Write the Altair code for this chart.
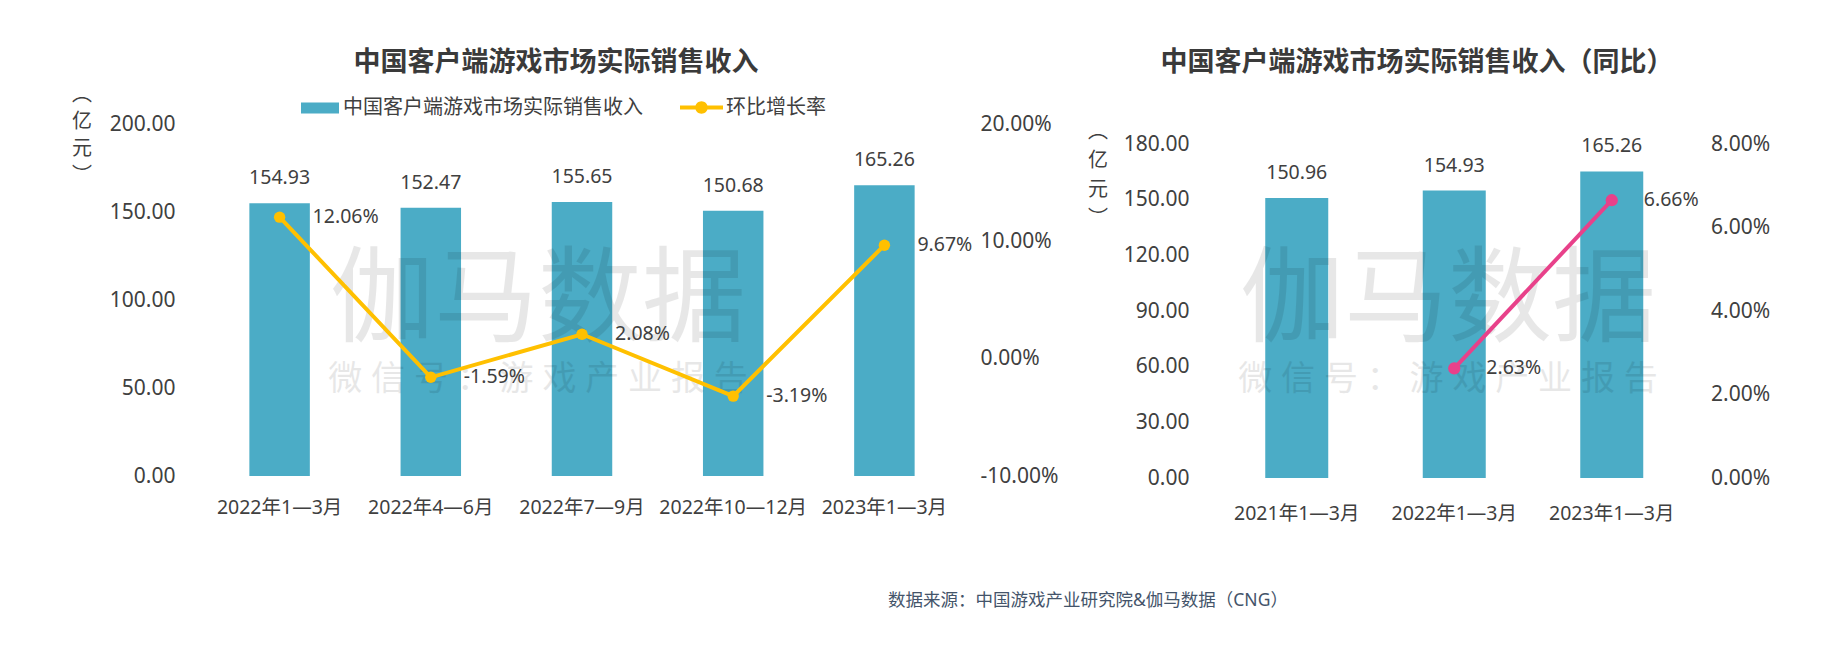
import altair as alt
import pandas as pd

# ---------------- data ----------------
q_labels = ["2022年1—3月", "2022年4—6月", "2022年7—9月", "2022年10—12月", "2023年1—3月"]
q_revenue = [154.93, 152.47, 155.65, 150.68, 165.26]
q_growth = [12.06, -1.59, 2.08, -3.19, 9.67]

y_labels = ["2021年1—3月", "2022年1—3月", "2023年1—3月"]
y_revenue = [150.96, 154.93, 165.26]
y_growth = [None, 2.63, 6.66]

left_axis_values = [0, 50, 100, 150, 200]
left_pct_values = [-0.10, 0.0, 0.10, 0.20]
right_axis_values = [0, 30, 60, 90, 120, 150, 180]
right_pct_values = [0.0, 0.02, 0.04, 0.06, 0.08]

bar_name = "中国客户端游戏市场实际销售收入"
line_name = "环比增长率"
title_left = "中国客户端游戏市场实际销售收入"
title_right = "中国客户端游戏市场实际销售收入（同比）"
unit_lines = ["︵", "亿", "元", "︶"]
wm_big = "伽马数据"
wm_small = "微 信 号 ： 游 戏 产 业 报 告"
source_text = "数据来源：中国游戏产业研究院&伽马数据（CNG）"

# ---------------- style ----------------
TEAL = "#4BACC6"
GOLD = "#FFC000"
PINK = "#E8418A"
TXT = "#404040"
FONT = "Noto Sans, Noto Sans CJK SC"
MINUS_FIX = "replace(format(datum.value, '.2%'), '\u2212', '-')"

RECT_PATH = "M-1,-0.29H1V0.29H-1Z"
LINE_DOT_PATH = ("M-1,-0.09H1V0.09H-1Z M0.29,0A0.29,0.29 0 1 1 -0.29,0"
                 "A0.29,0.29 0 1 1 0.29,0Z")

left_df = pd.DataFrame({
    "period": q_labels,
    "revenue": q_revenue,
    "growth": [g / 100 for g in q_growth],
    "s_bar": bar_name,
    "s_line": line_name,
})
left_df["rev_label"] = [f"{v:.2f}" for v in q_revenue]
left_df["g_label"] = [f"{g:.2f}%" for g in q_growth]

right_df = pd.DataFrame({"period": y_labels, "revenue": y_revenue})
right_df["rev_label"] = [f"{v:.2f}" for v in y_revenue]
right_line_df = pd.DataFrame({
    "period": [p for p, g in zip(y_labels, y_growth) if g is not None],
    "growth": [g / 100 for g in y_growth if g is not None],
})
right_line_df["g_label"] = [f"{g * 100:.2f}%" for g in right_line_df["growth"]]


def x_enc(order, pad):
    return alt.X(
        "period:N", sort=order,
        scale=alt.Scale(paddingInner=0.6, paddingOuter=0.3),
        axis=alt.Axis(title=None, labelAngle=0, domain=False, ticks=False, grid=False,
                      labelPadding=pad, labelFontSize=19.5, labelColor=TXT, labelFont=FONT),
    )


def one_text(txt, x, y, size, color=TXT, weight="normal", align="center", baseline="middle",
             opacity=1.0, line_height=None):
    kw = dict(fontSize=size, color=color, font=FONT, fontWeight=weight, align=align,
              baseline=baseline, opacity=opacity)
    if line_height is not None:
        kw["lineHeight"] = line_height
    return alt.Chart(pd.DataFrame({"t": [txt]})).mark_text(**kw).encode(
        x=alt.value(x), y=alt.value(y), text="t"
    )


def axis_left(values, dom):
    return alt.Axis(orient="left", values=values, format=".2f", title=None, domain=False,
                    ticks=False, grid=False, labelPadding=29, labelFontSize=21,
                    labelColor=TXT, labelFont=FONT)


def axis_right(values):
    return alt.Axis(orient="right", values=values, labelExpr=MINUS_FIX, title=None,
                    domain=False, ticks=False, grid=False, labelPadding=20, labelFontSize=21,
                    labelColor=TXT, labelFont=FONT)


# ---------------- left panel ----------------
LW, LH = 756, 352
lx = x_enc(q_labels, 22)
base_l = alt.Chart(left_df)

bars_l = base_l.mark_bar(opacity=1).encode(
    x=lx,
    y=alt.Y("revenue:Q", scale=alt.Scale(domain=[0, 200], nice=False),
            axis=axis_left(left_axis_values, None)),
    fill=alt.Fill("s_bar:N", scale=alt.Scale(domain=[bar_name], range=[TEAL]),
                  legend=alt.Legend(orient="none", legendX=97, legendY=-35, title=None,
                                    direction="horizontal", symbolType=RECT_PATH,
                                    symbolSize=1444, symbolStrokeWidth=0, symbolOpacity=1,
                                    labelFontSize=20, labelFont=FONT, labelColor=TXT,
                                    labelOffset=4, labelLimit=500)),
)
bar_lab_l = base_l.mark_text(dy=-25, baseline="middle", fontSize=19.5, color=TXT, font=FONT).encode(
    x=alt.X("period:N", sort=q_labels), y=alt.Y("revenue:Q"), text="rev_label:N"
)
layer_a = alt.layer(bars_l, bar_lab_l)

yr_l = alt.Y("growth:Q", scale=alt.Scale(domain=[-0.10, 0.20], nice=False, zero=False),
             axis=axis_right(left_pct_values))
line_l = base_l.mark_line(color=GOLD, strokeWidth=4).encode(x=alt.X("period:N", sort=q_labels), y=yr_l)
pts_l = base_l.mark_point(filled=True, size=130, opacity=1, strokeWidth=0).encode(
    x=alt.X("period:N", sort=q_labels), y=alt.Y("growth:Q"),
    color=alt.Color("s_line:N", scale=alt.Scale(domain=[line_name], range=[GOLD]),
                    legend=alt.Legend(orient="none", legendX=476, legendY=-38, title=None,
                                      direction="horizontal", symbolType=LINE_DOT_PATH,
                                      symbolSize=1849, symbolStrokeWidth=0, symbolOpacity=1,
                                      labelFontSize=20, labelFont=FONT, labelColor=TXT,
                                      labelOffset=3, labelLimit=500)),
)
lab_l = base_l.mark_text(align="left", dx=33, baseline="middle", fontSize=19.5, color=TXT,
                         font=FONT).encode(
    x=alt.X("period:N", sort=q_labels), y=alt.Y("growth:Q"), text="g_label:N"
)
layer_b = alt.layer(line_l, pts_l, lab_l)

anchor = alt.Chart(pd.DataFrame({"a": [0]})).mark_rule(opacity=0, strokeWidth=0.01).encode(
    x=alt.value(-196), x2=alt.value(1620), y=alt.value(-116), y2=alt.value(538)
)

left = alt.layer(
    anchor,
    layer_a,
    one_text(wm_big, 334, 179, 104, color="#000000", opacity=0.09),
    one_text(wm_small, 334, 256, 34, color="#000000", opacity=0.09),
    layer_b,
    one_text(title_left, 352, -61, 27, color="#3a3a3a", weight="bold"),
    one_text(unit_lines, -122, -39, 20, baseline="top", line_height=27),
    one_text(source_text, 684, 477, 17.5, color="#44546A", align="left"),
).resolve_scale(y="independent").properties(width=LW, height=LH)

# ---------------- right panel ----------------
RW, RH = 472.5, 354
rx = x_enc(y_labels, 26)
base_r = alt.Chart(right_df)
bars_r = base_r.mark_bar(opacity=1, color=TEAL).encode(
    x=rx,
    y=alt.Y("revenue:Q", scale=alt.Scale(domain=[0, 190.8], nice=False),
            axis=axis_left(right_axis_values, None)),
)
bar_lab_r = base_r.mark_text(dy=-25, baseline="middle", fontSize=19.5, color=TXT, font=FONT).encode(
    x=alt.X("period:N", sort=y_labels), y=alt.Y("revenue:Q"), text="rev_label:N"
)
layer_ra = alt.layer(bars_r, bar_lab_r)

base_rl = alt.Chart(right_line_df)
yr_r = alt.Y("growth:Q", scale=alt.Scale(domain=[0, 0.08487], nice=False, zero=False),
             axis=axis_right(right_pct_values))
line_r = base_rl.mark_line(color=PINK, strokeWidth=4).encode(x=alt.X("period:N", sort=y_labels), y=yr_r)
pts_r = base_rl.mark_point(filled=True, size=150, opacity=1, strokeWidth=0, color=PINK).encode(
    x=alt.X("period:N", sort=y_labels), y=alt.Y("growth:Q")
)
lab_r = base_rl.mark_text(align="left", dx=32, baseline="middle", fontSize=19.5, color=TXT,
                          font=FONT).encode(
    x=alt.X("period:N", sort=y_labels), y=alt.Y("growth:Q"), text="g_label:N"
)
layer_rb = alt.layer(line_r, pts_r, lab_r)

right = alt.layer(
    layer_ra,
    one_text(wm_big, 230, 179, 104, color="#000000", opacity=0.09),
    one_text(wm_small, 230, 256, 34, color="#000000", opacity=0.09),
    layer_rb,
    one_text(title_right, 199, -61, 27, color="#3a3a3a", weight="bold"),
    one_text(unit_lines, -120, -2, 20, baseline="top", line_height=29),
).resolve_scale(y="independent").properties(width=RW, height=RH)

chart = alt.hconcat(left, right, spacing=258, bounds="flush").resolve_scale(
    fill="independent", color="independent"
).resolve_legend(fill="independent", color="independent").properties(
    padding=0, autosize=alt.AutoSizeParams(type="pad"), background="white"
).configure_view(stroke=None).configure_axis(grid=False)

chart.save("out.html", embed_options={"renderer": "svg", "actions": False})
